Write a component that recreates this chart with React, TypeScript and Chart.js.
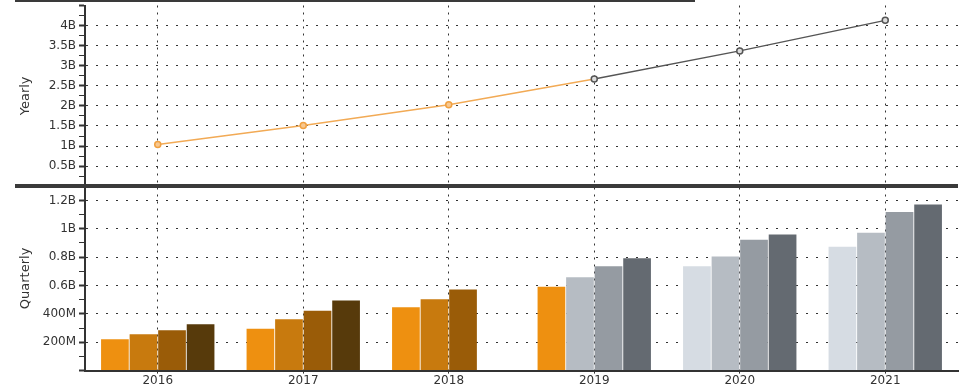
import React, { useEffect, useRef } from 'react';
import { Chart, registerables } from 'chart.js';

Chart.register(...registerables);

const years = ['2016', '2017', '2018', '2019', '2020', '2021'];
const yearly = [1.04e9, 1.51e9, 2.03e9, 2.67e9, 3.37e9, 4.13e9];
const q1 = [0.213e9, 0.283e9, 0.429e9, 0.568e9, 0.707e9, 0.84e9];
const q2 = [0.247e9, 0.348e9, 0.483e9, 0.633e9, 0.774e9, 0.934e9];
const q3 = [0.274e9, 0.406e9, 0.55e9, 0.707e9, 0.887e9, 1.075e9];
const q4 = [0.314e9, 0.476e9, null, 0.761e9, 0.923e9, 1.127e9];
const yearlyTickLabels = ['0.5B', '1B', '1.5B', '2B', '2.5B', '3B', '3.5B', '4B'];
const quarterlyTickLabels = ['200M', '400M', '0.6B', '0.8B', '1B', '1.2B'];

const q1Colors = ['#EE9010', '#EE9010', '#EE9010', '#EE9010', '#D6DCE3', '#D6DCE3'];
const q2Colors = ['#C87A0E', '#C87A0E', '#C87A0E', '#B6BCC3', '#B6BCC3', '#B6BCC3'];
const q3Colors = ['#9A5C08', '#9A5C08', '#9A5C08', '#959BA2', '#959BA2', '#959BA2'];
const q4Colors = ['#573A0B', '#573A0B', '#573A0B', '#646A71', '#646A71', '#646A71'];
const pointColors = ['#F0A040', '#F0A040', '#F0A040', '#555555', '#555555', '#555555'];

const FONT = 'DejaVu Sans';

const dividerPlugin = {
  id: 'divider',
  afterDraw(chart: any) {
    const ctx = chart.ctx;
    const y1 = chart.scales.y1;
    ctx.save();
    ctx.fillStyle = '#3a3a3a';
    ctx.fillRect(15, Math.round(y1.bottom) - 2, chart.chartArea.right - 15, 4);
    ctx.fillRect(15, 0, 680, 2);
    ctx.restore();
  },
};

const fitY = (s: any) => {
  s.width = 85;
  s.paddingTop = 0;
  s.paddingBottom = 0;
};

export default function App() {
  const ref = useRef<HTMLCanvasElement>(null);
  useEffect(() => {
    document.body.style.margin = '0';
    const ctx = ref.current!;
    const barBase = {
      type: 'bar' as const,
      yAxisID: 'y2',
      xAxisID: 'x',
      categoryPercentage: 0.785,
      barPercentage: 0.97,
      borderWidth: 0,
    };
    const chart = new Chart(ctx, {
      type: 'bar',
      data: {
        labels: years,
        datasets: [
          {
            type: 'line',
            label: 'Yearly',
            data: yearly,
            yAxisID: 'y1',
            xAxisID: 'x',
            borderWidth: 1.5,
            borderColor: '#F2AA55',
            segment: {
              borderColor: (c: any) => (c.p0DataIndex >= 3 ? '#555555' : '#F2AA55'),
            },
            pointRadius: 3,
            pointBorderWidth: 1.5,
            pointBorderColor: pointColors,
            pointBackgroundColor: ['#F8C890', '#F8C890', '#F8C890', '#DDDDDD', '#DDDDDD', '#DDDDDD'],
          } as any,
          { ...barBase, label: 'Q1', data: q1, backgroundColor: q1Colors },
          { ...barBase, label: 'Q2', data: q2, backgroundColor: q2Colors },
          { ...barBase, label: 'Q3', data: q3, backgroundColor: q3Colors },
          { ...barBase, label: 'Q4', data: q4 as any, backgroundColor: q4Colors },
        ],
      },
      options: {
        animation: false,
        responsive: false,
        devicePixelRatio: 1,
        layout: { padding: { left: 0, right: 11, top: 0, bottom: 0 } },
        plugins: { legend: { display: false }, tooltip: { enabled: false } },
        scales: {
          x: {
            type: 'category',
            offset: true,
            afterFit: (s: any) => {
              s.paddingLeft = 0;
              s.paddingRight = 0;
            },
            grid: {
              offset: false,
              color: '#333',
              lineWidth: 1,
              tickLength: 3,
            },
            border: { display: true, color: '#333', width: 2, dash: [2, 5] },
            ticks: { color: '#333', font: { family: FONT, size: 12 }, padding: 0 },
          },
          y2: {
            type: 'linear',
            position: 'left',
            stack: 'v',
            stackWeight: 1.02,
            min: 0,
            max: 1.25e9,
            afterFit: fitY,
            ticks: {
              stepSize: 0.1e9,
              autoSkip: false,
              maxTicksLimit: 100,
              color: '#333',
              font: { family: FONT, size: 12 },
              padding: 3,
              callback: (v: any) => {
                const n = Math.round(v / 1e8);
                if (n % 2 !== 0 || n === 0) return '';
                return quarterlyTickLabels[n / 2 - 1] ?? '';
              },
            },
            grid: {
              color: (c: any) => {
                const n = Math.round(c.tick.value / 1e8);
                return n % 2 === 0 && n > 0 && n <= 12 ? '#333' : 'rgba(0,0,0,0)';
              },
              tickColor: '#333',
              tickWidth: (c: any) => (Math.round(c.tick.value / 1e8) % 2 === 0 ? 2 : 1),
              tickLength: 6,
            },
            border: { display: true, color: '#333', width: 2, dash: [2, 8] },
            title: {
              display: true,
              text: 'Quarterly',
              color: '#333',
              font: { family: FONT, size: 13 },
              padding: { top: 18, bottom: 0 },
            },
          },
          y1: {
            type: 'linear',
            position: 'left',
            stack: 'v',
            stackWeight: 1,
            min: 0,
            max: 4.5e9,
            afterFit: fitY,
            ticks: {
              stepSize: 0.25e9,
              autoSkip: false,
              maxTicksLimit: 100,
              color: '#333',
              font: { family: FONT, size: 12 },
              padding: 3,
              callback: (v: any) => {
                const n = Math.round(v / 2.5e8);
                if (n % 2 !== 0 || n === 0) return '';
                return yearlyTickLabels[n / 2 - 1] ?? '';
              },
            },
            grid: {
              color: (c: any) => {
                const n = Math.round(c.tick.value / 2.5e8);
                return n % 2 === 0 && n > 0 && n < 18 ? '#333' : 'rgba(0,0,0,0)';
              },
              tickColor: '#333',
              tickWidth: (c: any) => (Math.round(c.tick.value / 2.5e8) % 2 === 0 ? 2 : 1),
              tickLength: 6,
            },
            border: { display: true, color: '#333', width: 2, dash: [2, 8] },
            title: {
              display: true,
              text: 'Yearly',
              color: '#333',
              font: { family: FONT, size: 13 },
              padding: { top: 18, bottom: 0 },
            },
          },
        },
      },
      plugins: [dividerPlugin],
    });
    return () => chart.destroy();
  }, []);
  return (
    <div style={{ width: 969, height: 388 }}>
      <canvas ref={ref} width={969} height={388} />
    </div>
  );
}
